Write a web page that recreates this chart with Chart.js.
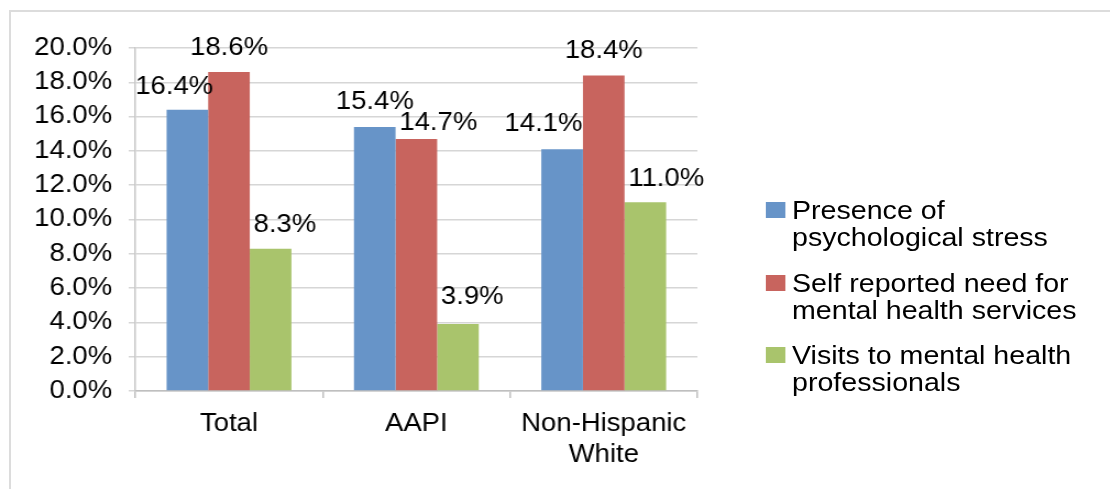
<!DOCTYPE html>
<html>
<head>
<meta charset="utf-8">
<script src="https://cdn.jsdelivr.net/npm/chart.js@4/dist/chart.umd.min.js"></script>
<style>
    html, body { margin: 0; padding: 0; background: #fff; overflow: hidden; }
    body { width: 1110px; height: 489px; position: relative; }
    #frame {
        position: absolute; left: 9px; top: 10px; width: 1200px; height: 600px;
        border-top: 2px solid #dcdcdc; border-left: 2px solid #dcdcdc;
    }
    /* the original picture is a little wider than it is tall, so stretch the chart */
    #stretch {
        position: absolute; left: 0; top: 0; width: 1009px; height: 489px;
        transform: scaleX(1.1); transform-origin: 0 0;
    }
    #legend {
        position: absolute; left: 696px; top: 197px;
        font-family: "Liberation Sans", Arial, sans-serif; font-size: 26px; line-height: 27px; color: #000;
    }
    .item { display: flex; align-items: flex-start; margin-bottom: 18.5px; }
    .swatch { width: 18px; height: 16px; margin-top: 5px; margin-right: 6px; flex: none; }
</style>
</head>
<body>
<div id="frame"></div>
<div id="stretch">
    <canvas id="stressChart" width="1009" height="489"></canvas>
    <div id="legend"></div>
</div>
<script>
const categories = ['Total', 'AAPI', ['Non-Hispanic', 'White']];
const seriesNames = [
    ['Presence of', 'psychological stress'],
    ['Self reported need for', 'mental health services'],
    ['Visits to mental health', 'professionals']
];
const stressValues = [16.4, 15.4, 14.1];
const needValues = [18.6, 14.7, 18.4];
const visitValues = [8.3, 3.9, 11.0];
const yTicks = [0, 2, 4, 6, 8, 10, 12, 14, 16, 18, 20];

const colors = ['#6794c8', '#c8645e', '#a9c46c'];
const font = '"Liberation Sans", Arial, sans-serif';

// hand-placed labels in the original: [dx, gap above bar]
const labelNudge = [
    [[-12, 16], [0, 18], [-17, 18]],
    [[0, 17], [20, 9], [0, 17]],
    [[13, 17], [13, 20], [19, 16]]
];

const valueLabels = {
    id: 'valueLabels',
    afterDatasetsDraw(chart) {
        const ctx = chart.ctx;
        ctx.save();
        ctx.font = '25px ' + font;
        ctx.fillStyle = '#000';
        ctx.textAlign = 'center';
        ctx.textBaseline = 'alphabetic';
        chart.data.datasets.forEach((ds, i) => {
            chart.getDatasetMeta(i).data.forEach((bar, j) => {
                const n = labelNudge[i][j];
                ctx.fillText(ds.data[j].toFixed(1) + '%', bar.x + n[0], bar.y - n[1]);
            });
        });
        ctx.restore();
    }
};

const allSeries = [stressValues, needValues, visitValues];

const ctx = document.getElementById('stressChart').getContext('2d');
new Chart(ctx, {
    type: 'bar',
    data: {
        labels: categories,
        datasets: allSeries.map((vals, i) => ({
            label: seriesNames[i].join(' '),
            data: vals,
            backgroundColor: colors[i],
            borderWidth: 0,
            categoryPercentage: 0.666,
            barPercentage: 1
        }))
    },
    options: {
        responsive: false,
        animation: false,
        layout: {
            padding: { left: 0, top: 48, right: 375, bottom: 0 }
        },
        plugins: {
            legend: { display: false },
            tooltip: { enabled: false }
        },
        scales: {
            x: {
                grid: {
                    drawOnChartArea: false,
                    drawTicks: true,
                    tickLength: 7,
                    color: '#bfbfbf',
                    lineWidth: 1.5
                },
                border: { color: '#bfbfbf', width: 1.5 },
                ticks: {
                    color: '#000',
                    padding: 10.5,
                    maxRotation: 0,
                    font: { family: font, size: 25, lineHeight: 1.25 }
                },
                afterFit(scale) { scale.height = 98; }
            },
            y: {
                min: 0,
                max: 20,
                afterBuildTicks(scale) { scale.ticks = yTicks.map(v => ({ value: v })); },
                grid: {
                    color: '#d6d6d6',
                    lineWidth: 1.5,
                    tickLength: 6
                },
                border: { color: '#c8c8c8', width: 1.5 },
                ticks: {
                    color: '#000',
                    padding: 15,
                    font: { family: font, size: 25 },
                    callback: v => v.toFixed(1) + '%'
                },
                afterFit(scale) { scale.width = 123; }
            }
        }
    },
    plugins: [valueLabels]
});

// legend with two-line entries, as in the original
const legend = document.getElementById('legend');
seriesNames.forEach((lines, i) => {
    const item = document.createElement('div');
    item.className = 'item';
    item.innerHTML = `<div class="swatch" style="background:${colors[i]}"></div><div>${lines.join('<br>')}</div>`;
    legend.appendChild(item);
});
</script>
</body>
</html>
